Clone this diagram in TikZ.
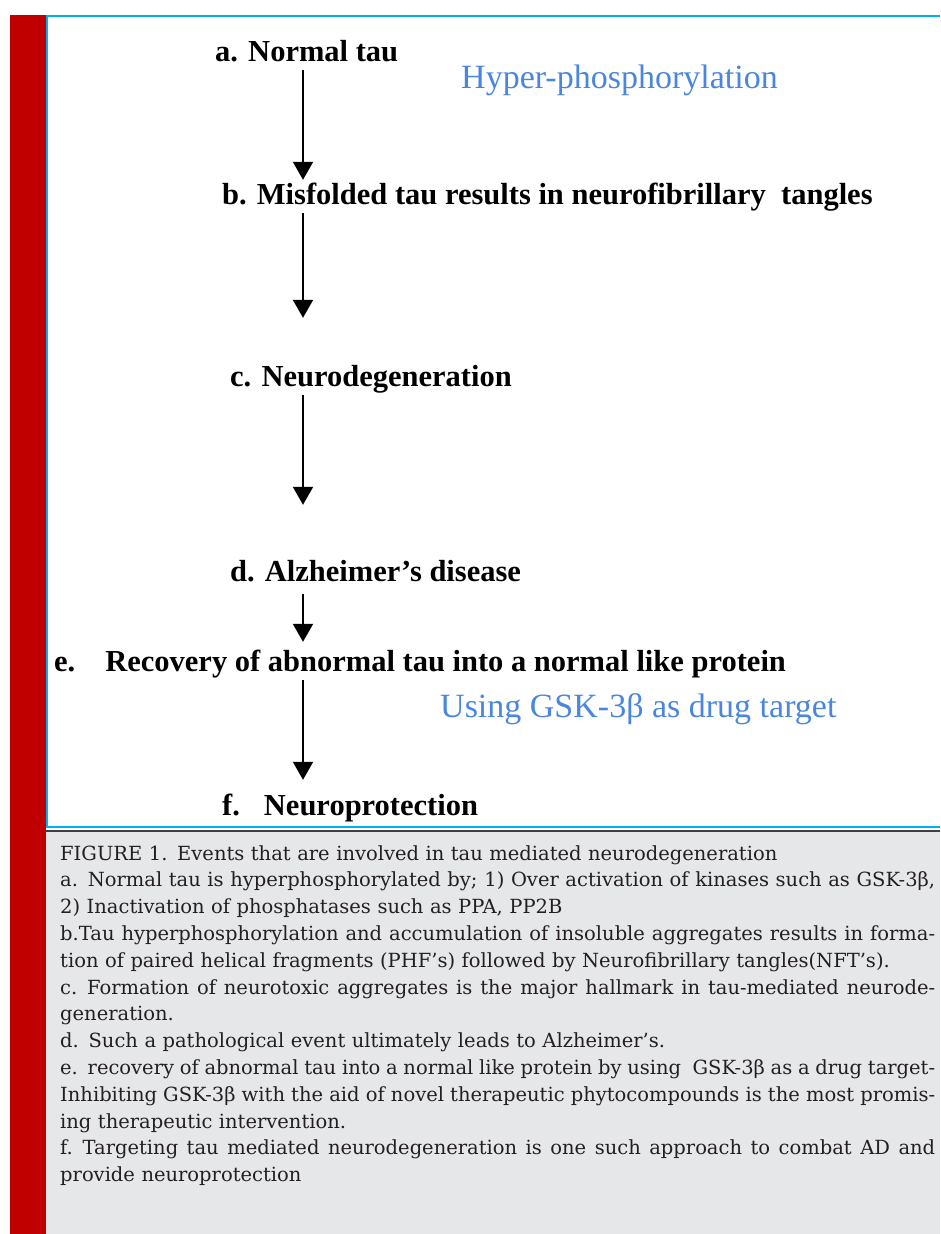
\documentclass[tikz,border=0pt]{standalone}
\usepackage{fontspec}
\newfontfamily\timesfont{Liberation Serif}
\newfontfamily\capfont{DejaVu Serif}
\usetikzlibrary{arrows.meta}

\definecolor{barred}{RGB}{192,0,0}
\definecolor{framecyan}{RGB}{0,176,240}
\definecolor{noteblue}{RGB}{74,134,222}
\definecolor{captiongray}{RGB}{230,231,233}
\definecolor{captionrule}{RGB}{64,64,64}
\definecolor{captiontext}{RGB}{35,31,32}

\newcommand{\capwidth}{875pt}
\newcommand{\jline}[1]{\leavevmode\hbox to \capwidth{\spaceskip=0.318em plus 1em minus 0.1em\relax #1}}

\tikzset{
    stage/.style={anchor=base west, inner sep=2pt, text height=22pt, text depth=7pt,
        font=\timesfont\bfseries\fontsize{30.5}{32}\selectfont},
    note/.style={anchor=base west, inner sep=0pt, text=noteblue,
        font=\timesfont\fontsize{34}{36}\selectfont},
    flow/.style={draw=black, line width=2pt, -{Triangle[width=20pt,length=18pt]}},
    capblock/.style={anchor=north west, inner sep=0pt, text width=\capwidth, align=left,
        text=captiontext, font=\capfont\fontsize{19.5}{26.8}\selectfont},
}

\begin{document}
\begin{tikzpicture}[x=1pt, y=-1pt]
    \useasboundingbox (0,0) rectangle (940,1234);
    \fill[white] (0,0) rectangle (940,1234);

    % frame and caption panel
    \fill[captiongray] (46,830) rectangle (940,1234);
    \fill[barred] (10,15) rectangle (46,1234);
    \draw[framecyan, line width=2.5pt] (47,828) -- (47,16) -- (940,16);
    \draw[framecyan, line width=2.5pt] (46,827) -- (940,827);
    \draw[captionrule, line width=2pt] (46,830.5) -- (940,830.5);

    % stages
    \coordinate (ax) at (303,0);
    \node[stage] (na) at (213,61) {a. Normal tau};
    \node[stage] (nb) at (220,204) {b. Misfolded tau results in neurofibrillary \ tangles};
    \node[stage] (nc) at (228,386) {c. Neurodegeneration};
    \node[stage] (nd) at (228,581) {d. Alzheimer’s disease};
    \node[stage] (ne) at (52,671) {e.\hspace{30pt}Recovery of abnormal tau into a normal like protein};
    \node[stage] (nf) at (220,815) {f.\hspace{24pt}Neuroprotection};

    % side notes
    \node[note] (nhyper) at (461,88) {Hyper-phosphorylation};
    \node[note] (ndrug) at (440,717) {Using GSK-3β as drug target};

    % arrows
    \draw[flow] (na.south -| ax) -- (nb.north -| ax);
    \draw[flow, shorten >=44pt] (nb.south -| ax) -- (nc.north -| ax);
    \draw[flow, shorten >=52pt] (nc.south -| ax) -- (nd.north -| ax);
    \draw[flow, shorten <=4pt, shorten >=5pt] (nd.south -| ax) -- (ne.north -| ax);
    \draw[flow, shorten >=11pt] (ne.south -| ax) -- (nf.north -| ax);

    % caption
    \node[capblock] (ncap) at (60,845) {%
        FIGURE 1. Events that are involved in tau mediated neurodegeneration\\
        \jline{a. Normal tau is hyperphosphorylated by; 1) Over activation of kinases such as GSK-3β,}\\
        2) Inactivation of phosphatases such as PPA, PP2B\\
        \jline{b.Tau hyperphosphorylation and accumulation of insoluble aggregates results in forma-}\\
        tion of paired helical fragments (PHF’s) followed by Neurofibrillary tangles(NFT’s).\\
        \jline{c. Formation of neurotoxic aggregates is the major hallmark in tau-mediated neurode-}\\
        generation.\\
        d. Such a pathological event ultimately leads to Alzheimer’s.\\
        \jline{e. recovery of abnormal tau into a normal like protein by using \ GSK-3β as a drug target-}\\
        \jline{Inhibiting GSK-3β with the aid of novel therapeutic phytocompounds is the most promis-}\\
        ing therapeutic intervention.\\
        \jline{f. Targeting tau mediated neurodegeneration is one such approach to combat AD and}\\
        provide neuroprotection};
\end{tikzpicture}
\end{document}
